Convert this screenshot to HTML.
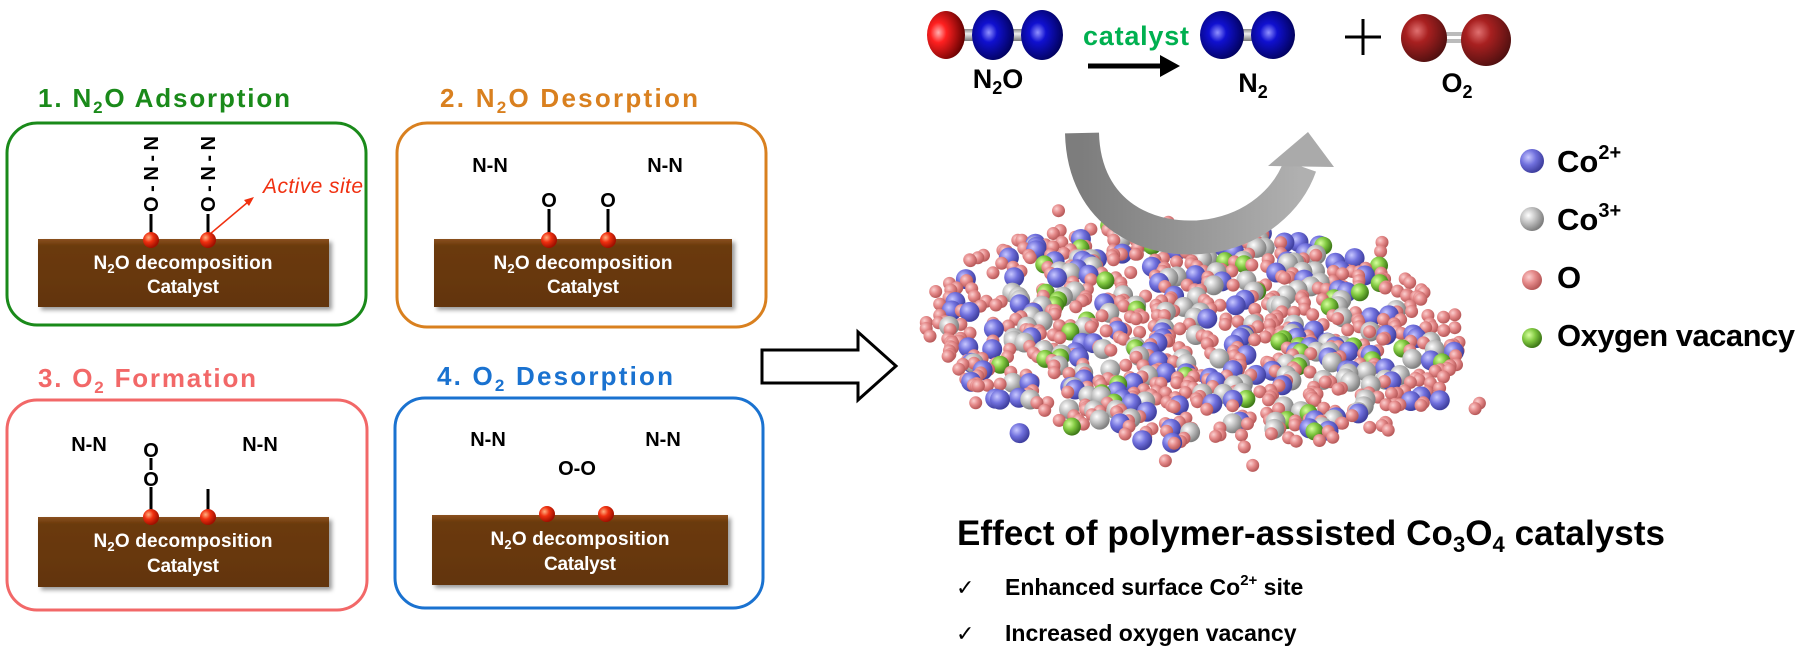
<!DOCTYPE html>
<html><head><meta charset="utf-8"><style>
html,body{margin:0;padding:0;background:#fff;}
svg{display:block;}
text{font-family:"Liberation Sans",sans-serif;}
</style></head><body>
<svg id="s" width="1804" height="656" viewBox="0 0 1804 656" xmlns="http://www.w3.org/2000/svg">
<defs>
<radialGradient id="gO" cx="35%" cy="35%" r="65%"><stop offset="0" stop-color="#fbd0d0"/><stop offset="0.5" stop-color="#e58a8a"/><stop offset="1" stop-color="#b85a5a"/></radialGradient>
<radialGradient id="gB" cx="35%" cy="35%" r="65%"><stop offset="0" stop-color="#c8c8ff"/><stop offset="0.5" stop-color="#7070dd"/><stop offset="1" stop-color="#4040a0"/></radialGradient>
<radialGradient id="gG" cx="35%" cy="35%" r="65%"><stop offset="0" stop-color="#ffffff"/><stop offset="0.5" stop-color="#c0c0c0"/><stop offset="1" stop-color="#808080"/></radialGradient>
<radialGradient id="gV" cx="35%" cy="35%" r="65%"><stop offset="0" stop-color="#d8ffa0"/><stop offset="0.5" stop-color="#80c840"/><stop offset="1" stop-color="#3f7a18"/></radialGradient>
<radialGradient id="gR" cx="30%" cy="45%" r="70%"><stop offset="0" stop-color="#ffb0b0"/><stop offset="0.3" stop-color="#ff2020"/><stop offset="1" stop-color="#600000"/></radialGradient>
<radialGradient id="gN" cx="40%" cy="45%" r="65%"><stop offset="0" stop-color="#9090ff"/><stop offset="0.3" stop-color="#1010d0"/><stop offset="1" stop-color="#000050"/></radialGradient>
<radialGradient id="gD" cx="35%" cy="35%" r="70%"><stop offset="0" stop-color="#e07070"/><stop offset="0.35" stop-color="#a82020"/><stop offset="1" stop-color="#501010"/></radialGradient>
<radialGradient id="gS" cx="35%" cy="35%" r="65%"><stop offset="0" stop-color="#ffb080"/><stop offset="0.45" stop-color="#f03010"/><stop offset="1" stop-color="#a01000"/></radialGradient>
<linearGradient id="slab" x1="0" y1="0" x2="0" y2="1"><stop offset="0" stop-color="#8a5020"/><stop offset="0.1" stop-color="#6b3a0a"/><stop offset="1" stop-color="#633507"/></linearGradient>
<linearGradient id="arw" x1="0" y1="0" x2="1" y2="0"><stop offset="0" stop-color="#7d7d7d"/><stop offset="1" stop-color="#b0b0b0"/></linearGradient>
<linearGradient id="bar" x1="0" y1="0" x2="0" y2="1"><stop offset="0" stop-color="#888"/><stop offset="0.4" stop-color="#eee"/><stop offset="1" stop-color="#777"/></linearGradient>
<filter id="sh" x="-5%" y="-10%" width="115%" height="130%"><feDropShadow dx="3" dy="3" stdDeviation="2" flood-color="#000" flood-opacity="0.4"/></filter>
</defs>

<rect x="7" y="123" width="359" height="202" rx="30" fill="none" stroke="#1a8a1a" stroke-width="3"/>
<rect x="397" y="123" width="369" height="204" rx="30" fill="none" stroke="#d9801f" stroke-width="3"/>
<rect x="7" y="400" width="360" height="210" rx="30" fill="none" stroke="#f26868" stroke-width="3"/>
<rect x="395" y="398" width="368" height="210" rx="30" fill="none" stroke="#1a72d0" stroke-width="3"/>

<text x="38" y="107" font-size="26" font-weight="bold" fill="#1a8a1a" textLength="252">1. N<tspan font-size="17" dy="6">2</tspan><tspan dy="-6">O Adsorption</tspan></text>
<text x="440" y="107" font-size="26" font-weight="bold" fill="#d9801f" textLength="258">2. N<tspan font-size="17" dy="6">2</tspan><tspan dy="-6">O Desorption</tspan></text>
<text x="38" y="387" font-size="26" font-weight="bold" fill="#f26868" textLength="218">3. O<tspan font-size="17" dy="6">2</tspan><tspan dy="-6"> Formation</tspan></text>
<text x="437" y="385" font-size="26" font-weight="bold" fill="#1a72d0" textLength="236">4. O<tspan font-size="17" dy="6">2</tspan><tspan dy="-6"> Desorption</tspan></text>

<g font-size="19" font-weight="bold" fill="#fff" text-anchor="middle">
<rect x="38" y="239" width="291" height="68" fill="url(#slab)" filter="url(#sh)"/>
<text x="183" y="269" textLength="179">N<tspan font-size="13" dy="4">2</tspan><tspan dy="-4">O decomposition</tspan></text>
<text x="183" y="293" textLength="72">Catalyst</text>
<rect x="434" y="239" width="298" height="68" fill="url(#slab)" filter="url(#sh)"/>
<text x="583" y="269" textLength="179">N<tspan font-size="13" dy="4">2</tspan><tspan dy="-4">O decomposition</tspan></text>
<text x="583" y="293" textLength="72">Catalyst</text>
<rect x="38" y="517" width="291" height="70" fill="url(#slab)" filter="url(#sh)"/>
<text x="183" y="547" textLength="179">N<tspan font-size="13" dy="4">2</tspan><tspan dy="-4">O decomposition</tspan></text>
<text x="183" y="572" textLength="72">Catalyst</text>
<rect x="432" y="515" width="296" height="70" fill="url(#slab)" filter="url(#sh)"/>
<text x="580" y="545" textLength="179">N<tspan font-size="13" dy="4">2</tspan><tspan dy="-4">O decomposition</tspan></text>
<text x="580" y="570" textLength="72">Catalyst</text>
</g>

<g stroke="#000" stroke-width="3">
<line x1="151" y1="214" x2="151" y2="240"/><line x1="208" y1="214" x2="208" y2="240"/>
<line x1="549" y1="209" x2="549" y2="240"/><line x1="608" y1="209" x2="608" y2="240"/>
<line x1="151" y1="458" x2="151" y2="470"/><line x1="151" y1="487" x2="151" y2="517"/>
<line x1="208" y1="489" x2="208" y2="517"/>
</g>
<g font-size="20" font-weight="bold" fill="#000">
<text transform="translate(158,174) rotate(-90)" text-anchor="middle" textLength="76">O-N-N</text>
<text transform="translate(215,174) rotate(-90)" text-anchor="middle" textLength="76">O-N-N</text>
</g>
<line x1="210" y1="234" x2="248" y2="202" stroke="#f03010" stroke-width="1.5"/>
<polygon points="254,197 244,200 249,206" fill="#f03010"/>
<text x="263" y="193" font-size="21" font-style="italic" fill="#f03010" textLength="100">Active site</text>

<g font-size="20" font-weight="bold" fill="#000" text-anchor="middle">
<text x="490" y="172">N-N</text><text x="665" y="172">N-N</text>
<text x="549" y="207">O</text><text x="608" y="207">O</text>
<text x="89" y="451">N-N</text><text x="260" y="451">N-N</text>
<text x="151" y="457">O</text><text x="151" y="486">O</text>
<text x="488" y="446">N-N</text><text x="663" y="446">N-N</text>
<text x="577" y="475">O-O</text>
</g>

<g fill="url(#gS)">
<ellipse cx="151" cy="240" rx="8" ry="8"/><ellipse cx="208" cy="240" rx="8" ry="8"/>
<ellipse cx="549" cy="240" rx="8" ry="8"/><ellipse cx="608" cy="240" rx="8" ry="8"/>
<ellipse cx="151" cy="517" rx="8" ry="8"/><ellipse cx="208" cy="517" rx="8" ry="8"/>
<ellipse cx="547" cy="514" rx="8" ry="8"/><ellipse cx="606" cy="514" rx="8" ry="8"/>
</g>

<polygon points="762,350 858,350 858,332 896,366 858,400 858,383 762,383" fill="#fff" stroke="#000" stroke-width="3"/>

<rect x="946" y="29" width="96" height="12" fill="url(#bar)"/>
<ellipse cx="946" cy="35" rx="19" ry="24" fill="url(#gR)"/>
<ellipse cx="993" cy="35" rx="21" ry="25" fill="url(#gN)"/>
<ellipse cx="1042" cy="35" rx="21" ry="25" fill="url(#gN)"/>
<text x="998" y="88" font-size="27" font-weight="bold" text-anchor="middle">N<tspan font-size="18" dy="6">2</tspan><tspan dy="-6">O</tspan></text>
<text x="1136" y="45" font-size="27" font-weight="bold" fill="#00b050" text-anchor="middle" textLength="106">catalyst</text>
<line x1="1088" y1="66" x2="1162" y2="66" stroke="#000" stroke-width="5"/>
<polygon points="1160,55 1180,66 1160,77" fill="#000"/>
<rect x="1222" y="29" width="51" height="12" fill="url(#bar)"/>
<ellipse cx="1222" cy="35" rx="22" ry="24" fill="url(#gN)"/>
<ellipse cx="1273" cy="35" rx="22" ry="24" fill="url(#gN)"/>
<text x="1253" y="92" font-size="27" font-weight="bold" text-anchor="middle">N<tspan font-size="18" dy="6">2</tspan></text>
<line x1="1345" y1="37" x2="1381" y2="37" stroke="#000" stroke-width="3"/>
<line x1="1363" y1="19" x2="1363" y2="55" stroke="#000" stroke-width="3"/>
<rect x="1424" y="32" width="61" height="4" fill="#bbb"/><rect x="1424" y="39" width="61" height="4" fill="#bbb"/>
<ellipse cx="1424" cy="38" rx="23" ry="24" fill="url(#gD)"/>
<ellipse cx="1486" cy="40" rx="25" ry="26" fill="url(#gD)"/>
<text x="1457" y="92" font-size="27" font-weight="bold" text-anchor="middle">O<tspan font-size="18" dy="6">2</tspan></text>

<g id="cluster"></g>

<path d="M1082,133 C1084,215 1150,245 1210,236 C1255,229 1288,200 1300,166" fill="none" stroke="url(#arw)" stroke-width="34"/>
<polygon points="1308,132 1334,167 1268,166" fill="#aaaaaa"/>

<ellipse cx="1532" cy="161" rx="12" ry="12" fill="url(#gB)"/>
<ellipse cx="1532" cy="219" rx="12" ry="12" fill="url(#gG)"/>
<ellipse cx="1532" cy="280" rx="10" ry="10" fill="url(#gO)"/>
<ellipse cx="1532" cy="338" rx="10" ry="10" fill="url(#gV)"/>
<g font-size="31" font-weight="bold">
<text x="1557" y="172">Co<tspan font-size="20" dy="-13">2+</tspan></text>
<text x="1557" y="230">Co<tspan font-size="20" dy="-13">3+</tspan></text>
<text x="1557" y="288">O</text>
<text x="1557" y="346" textLength="238">Oxygen vacancy</text>
</g>

<text x="957" y="545" font-size="35" font-weight="bold" textLength="708">Effect of polymer-assisted Co<tspan font-size="22" dy="7">3</tspan><tspan dy="-7">O</tspan><tspan font-size="22" dy="7">4</tspan><tspan dy="-7"> catalysts</tspan></text>
<text x="956" y="595" font-size="22">✓</text>
<text x="1005" y="595" font-size="23" font-weight="bold">Enhanced surface Co<tspan font-size="15" dy="-10">2+</tspan><tspan dy="10"> site</tspan></text>
<text x="956" y="641" font-size="22">✓</text>
<text x="1005" y="641" font-size="23" font-weight="bold">Increased oxygen vacancy</text>
</svg>
<script>
(function(){
var s=12345;function r(){s=(s*1103515245+12345)%2147483648;return s/2147483648;}
var g=document.getElementById('cluster'),ns='http://www.w3.org/2000/svg',atoms=[];
var cx=1193,cy=335,a=268,b=112;
for(var i=0;i<6000 && atoms.length<900;i++){
 var x=cx+(r()*2-1)*a*1.1,y=cy+(r()*2-1)*b*1.3;
 var dx=(x-cx)/a,dy=(y-cy-(x-cx)*0.06)/b;var d=dx*dx+dy*dy;
 if(d>1.0 && r()>0.04) continue; if(d>1.4) continue;
 var t=r(),type;
 if(t<0.64)type='O';else if(t<0.79)type='B';else if(t<0.95)type='G';else type='V';
 if(d>0.85 && type=='G') type='O';
 atoms.push([x,y,type]);
}
atoms.sort(function(p,q){return p[1]-q[1];});
atoms.forEach(function(p){
 var c=document.createElementNS(ns,'circle');c.setAttribute('cx',p[0].toFixed(1));c.setAttribute('cy',p[1].toFixed(1));
 var rr=p[2]=='O'?6.5:(p[2]=='V'?9:10);c.setAttribute('r',rr);
 c.setAttribute('fill','url(#g'+p[2]+')');g.appendChild(c);
});
})();
</script>
</body></html>
